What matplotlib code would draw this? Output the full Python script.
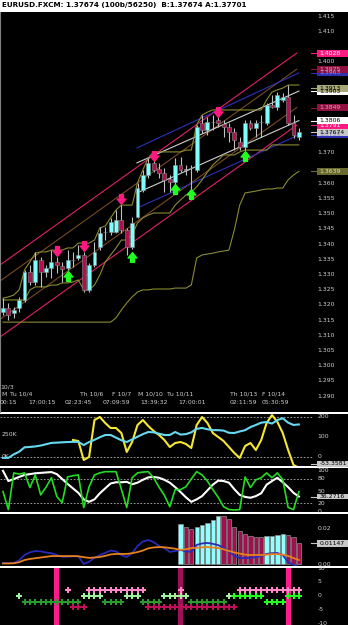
import numpy as np
import matplotlib
matplotlib.use('Agg')
import matplotlib.pyplot as plt
from matplotlib.path import Path
from matplotlib.patches import Rectangle

W, H = 348, 625

# ---- price candles ----
opens = [1.3176, 1.3189, 1.3173, 1.3189, 1.3216, 1.3308, 1.3275, 1.3347, 1.3308, 1.3321,
         1.3341, 1.3328, 1.3321, 1.3347, 1.3354, 1.3364, 1.3249, 1.3331, 1.3390, 1.3440,
         1.3440, 1.3440, 1.3479, 1.3446, 1.3390, 1.3489, 1.3578, 1.3627, 1.3667, 1.3647,
         1.3634, 1.3614, 1.3604, 1.3660, 1.3644, 1.3650, 1.3644, 1.3798, 1.3775, 1.3801,
         1.3808, 1.3795, 1.3785, 1.3769, 1.3736, 1.3719, 1.3798, 1.3782, 1.3801, 1.3798,
         1.3857, 1.3851, 1.3874, 1.3884, 1.3798, 1.3752]
highs = [1.3222, 1.3206, 1.3193, 1.3226, 1.3315, 1.3331, 1.3374, 1.3357, 1.3331, 1.3380,
         1.3357, 1.3341, 1.3380, 1.3374, 1.3397, 1.3374, 1.3338, 1.3407, 1.3456, 1.3456,
         1.3486, 1.3512, 1.3528, 1.3452, 1.3489, 1.3601, 1.3644, 1.3683, 1.3693, 1.3667,
         1.3650, 1.3627, 1.3683, 1.3686, 1.3660, 1.3660, 1.3792, 1.3824, 1.3818, 1.3824,
         1.3834, 1.3808, 1.3798, 1.3782, 1.3752, 1.3808, 1.3808, 1.3808, 1.3824, 1.3864,
         1.3890, 1.3900, 1.3897, 1.3923, 1.3824, 1.3782]
lows = [1.3166, 1.3150, 1.3157, 1.3176, 1.3209, 1.3265, 1.3265, 1.3259, 1.3291, 1.3288,
        1.3305, 1.3275, 1.3315, 1.3324, 1.3347, 1.3242, 1.3242, 1.3324, 1.3380, 1.3413,
        1.3430, 1.3436, 1.3436, 1.3364, 1.3384, 1.3486, 1.3571, 1.3617, 1.3637, 1.3617,
        1.3571, 1.3571, 1.3584, 1.3637, 1.3627, 1.3578, 1.3637, 1.3765, 1.3759, 1.3775,
        1.3785, 1.3752, 1.3736, 1.3709, 1.3709, 1.3709, 1.3775, 1.3752, 1.3752, 1.3792,
        1.3847, 1.3841, 1.3867, 1.3792, 1.3749, 1.3742]
closes = [1.3189, 1.3166, 1.3183, 1.3216, 1.3308, 1.3275, 1.3347, 1.3308, 1.3321, 1.3341,
          1.3331, 1.3318, 1.3347, 1.3346, 1.3364, 1.3249, 1.3331, 1.3374, 1.3436, 1.3438,
          1.3472, 1.3479, 1.3446, 1.3390, 1.3469, 1.3584, 1.3627, 1.3667, 1.3644, 1.3634,
          1.3611, 1.3604, 1.3660, 1.3644, 1.3645, 1.3651, 1.3785, 1.3775, 1.3801, 1.3800,
          1.3798, 1.3785, 1.3769, 1.3742, 1.3719, 1.3798, 1.3782, 1.3798, 1.3800, 1.3857,
          1.3851, 1.3890, 1.3884, 1.3798, 1.3759, 1.37674]

# step bands
band_hi = [1.3222, 1.3226, 1.3232, 1.3249, 1.3315, 1.3341, 1.3370, 1.3374, 1.3374, 1.3380,
           1.3380, 1.3380, 1.3387, 1.3387, 1.3403, 1.3403, 1.3403, 1.3413, 1.3453, 1.3459,
           1.3486, 1.3512, 1.3528, 1.3528, 1.3528, 1.3601, 1.3644, 1.3683, 1.3703, 1.3703,
           1.3703, 1.3703, 1.3703, 1.3703, 1.3709, 1.3709, 1.3792, 1.3824, 1.3834, 1.3841,
           1.3841, 1.3841, 1.3841, 1.3841, 1.3841, 1.3841, 1.3841, 1.3841, 1.3841, 1.3874,
           1.3900, 1.3907, 1.3913, 1.3923, 1.3923, 1.3923]
band_lo = [1.3216, 1.3216, 1.3216, 1.3216, 1.3216, 1.3249, 1.3259, 1.3259, 1.3259, 1.3265,
           1.3265, 1.3272, 1.3272, 1.3275, 1.3282, 1.3249, 1.3249, 1.3265, 1.3298, 1.3341,
           1.3364, 1.3387, 1.3413, 1.3413, 1.3430, 1.3469, 1.3486, 1.3495, 1.3502, 1.3502,
           1.3502, 1.3502, 1.3528, 1.3545, 1.3561, 1.3571, 1.3588, 1.3611, 1.3637, 1.3660,
           1.3676, 1.3693, 1.3693, 1.3693, 1.3703, 1.3709, 1.3709, 1.3709, 1.3709, 1.3709,
           1.3726, 1.3726, 1.3726, 1.3726, 1.3726, 1.3726]
long_stop = [1.3143] * 21 + [1.3157, 1.3183, 1.3206, 1.3226, 1.3242, 1.3249, 1.3249, 1.3252,
             1.3252, 1.3252, 1.3252, 1.3255, 1.3255, 1.3255, 1.3265, 1.3354, 1.3364, 1.3367,
             1.3370, 1.3374, 1.3377, 1.3380, 1.3446, 1.3528, 1.3568, 1.3571, 1.3574, 1.3578,
             1.3581, 1.3581, 1.3584, 1.3584, 1.3611, 1.3627, 1.3639]

# regression channels: (start index, end index), (start price, end price)
long_chan_x = [-0.56, 54.6]
pink_up = [1.3331, 1.4028]
brown_up = [1.3278, 1.3975]
brown_lo = [1.3152, 1.3849]
pink_lo = [1.3094, 1.3791]
short_chan_x = [24.9, 55]
blue_up = [1.3716, 1.3963]
white_up = [1.3667, 1.3903]
white_lo = [1.3568, 1.3806]
blue_lo = [1.3518, 1.3759]

# signal arrows (index, price)
sell_idx = [10, 15, 22, 28, 40]
sell_px = [1.3377, 1.3393, 1.3548, 1.3690, 1.3834]
buy_idx = [12, 24, 32, 35, 45]
buy_px = [1.3295, 1.3357, 1.3581, 1.3565, 1.3690]

# right side value boxes (price, text, fill, text colour), drawn in this order
box_prices = [1.3963, 1.3975, 1.4028, 1.3903, 1.3913, 1.3849, 1.3791, 1.3759, 1.3806, 1.37674, 1.3639]
box_texts = ['1.3963', '1.3975', '1.4028', '1.3903', '1.3913', '1.3849', '1.3791', '1.3759',
             '1.3806', '1.37674', '1.3639']
box_fills = ['#3030b0', '#901040', '#ff1a80', '#ffffff', '#a8a878', '#901040', '#ff1a80',
             '#3030b0', '#ffffff', '#c8c8c8', '#6a6a30']
box_tcols = ['#9090ff', '#e0a0c0', '#ffffff', '#000000', '#000000', '#e0a0c0', '#ffffff',
             '#9090ff', '#000000', '#000000', '#e0e0a0']

# ---- oscillator panels ----
cci_start = 13
cci = [85, 80, -15, 0, 185, 200, 170, 145, 145, 120, 25, 75, 160, 185, 155, 130, 110, 85,
       50, 70, 75, 65, 45, 160, 200, 170, 120, 100, 80, 50, 20, -5, 55, 70, 35, 85, 170,
       210, 175, 120, 35, -40, -53.36]
vol_k = [-10, -10, 30, 60, 110, 114, 120, 130, 145, 160, 163, 167, 170, 172, 172, 136, 170,
         195, 225, 250, 250, 220, 190, 170, 200, 230, 260, 284, 280, 265, 250, 250, 284,
         255, 260, 280, 320, 330, 315, 305, 305, 300, 275, 273, 290, 305, 340, 364, 390,
         398, 380, 420, 440, 390, 364, 370]
stoch_k = [49, 5, 95, 92, 95, 59, 90, 41, 60, 83, 37, 22, 85, 88, 90, 10, 61, 90, 95, 98,
           98, 98, 55, 10, 83, 95, 97, 98, 83, 60, 40, 12, 54, 54, 61, 80, 98, 90, 75, 54,
           35, 12, 5, 4, 5, 85, 59, 78, 83, 95, 83, 95, 78, 10, 5, 49]
stoch_d = [100, 75, 80, 85, 90, 92, 94, 95, 96, 97, 92, 80, 68, 57, 46, 30, 24, 30, 45, 57,
           69, 72, 72, 73, 67, 71, 78, 84, 85, 83, 78, 71, 60, 48, 35, 24, 30, 38, 52, 66,
           76, 75, 71, 55, 41, 36, 34, 38, 45, 66, 75, 83, 72, 60, 46, 37]
macd_blue = [0.0005, 0.0005, 0.0006, 0.0020, 0.0050, 0.0065, 0.0072, 0.0070, 0.0064, 0.0060,
             0.0050, 0.0040, 0.0040, 0.0043, 0.0044, 0.0000, 0.0012, 0.0035, 0.0050, 0.0062,
             0.0075, 0.0070, 0.0050, 0.0039, 0.0060, 0.0100, 0.0125, 0.0133, 0.0122, 0.0100,
             0.0088, 0.0067, 0.0072, 0.0078, 0.0070, 0.0067, 0.0106, 0.0114, 0.0117, 0.0112,
             0.0105, 0.0090, 0.0070, 0.0045, 0.0033, 0.0033, 0.0034, 0.0039, 0.0045, 0.0056,
             0.0060, 0.0061, 0.0050, 0.0010, -0.0005, -0.0017]
macd_orange = [0.0003, 0.0003, 0.0004, 0.0010, 0.0022, 0.0028, 0.0032, 0.0036, 0.0040, 0.0044,
               0.0044, 0.0044, 0.0044, 0.0044, 0.0043, 0.0038, 0.0034, 0.0036, 0.0039, 0.0045,
               0.0053, 0.0056, 0.0056, 0.0056, 0.0060, 0.0066, 0.0075, 0.0087, 0.0092, 0.0094,
               0.0093, 0.0089, 0.0085, 0.0078, 0.0082, 0.0088, 0.0090, 0.0093, 0.0094, 0.0092,
               0.0089, 0.0082, 0.0072, 0.0064, 0.0058, 0.0052, 0.0050, 0.0050, 0.0050, 0.0052,
               0.0055, 0.0055, 0.0052, 0.0045, 0.0033, 0.0022]
hist_start = 33
hist_vals = [0.0222, 0.0206, 0.0194, 0.0206, 0.0217, 0.0230, 0.0244, 0.0267, 0.0267, 0.0250,
             0.0206, 0.0181, 0.0169, 0.0157, 0.0150, 0.0150, 0.0156, 0.0156, 0.0161, 0.0167,
             0.0161, 0.0150, 0.0117]
hist_up = [1, 0, 0, 1, 1, 1, 1, 1, 0, 0, 0, 0, 0, 0, 0, 0, 1, 1, 1, 1, 0, 0, 0]

# signal dots panel: candle indices per row
dots_pink = [12] + list(range(16, 27)) + [33] + list(range(44, 56))
dots_lightgreen = [3] + list(range(15, 19)) + list(range(23, 26)) + list(range(30, 35)) + [42]
dots_green0 = list(range(43, 49)) + list(range(53, 56))
dots_darkgreen = list(range(4, 15)) + list(range(19, 23)) + list(range(26, 30)) + list(range(35, 42))
dots_green2 = list(range(49, 53))
dots_maroon = list(range(13, 16)) + list(range(27, 44))
alert_idx = [10, 33, 53]
alert_colors = ['#ff1a8c', '#a0105a', '#ff1a8c']

# axis text
price_ticks = [1.415 - 0.005 * k for k in range(26)]
day_labels = ['M', 'Tu 10/4', 'Th 10/6', 'F 10/7', 'M 10/10', 'Tu 10/11', 'Th 10/13', 'F 10/14']
day_pos = [-0.37, 1.30, 14.31, 20.26, 25.09, 30.48, 42.19, 48.14]
time_labels = ['00:15', '17:00:15', '02:23:45', '07:09:59', '13:39:32', '17:00:01', '02:11:59', '05:30:59']
time_pos = [-0.56, 4.65, 11.52, 18.59, 25.46, 32.53, 42.19, 48.14]

LBL = '#d0d0d0'
FS = 4.4


def panel(fig, top, bottom, ylim):
    ax = fig.add_axes([0, 1 - bottom / H, 1, (bottom - top) / H])
    ax.set_facecolor('black')
    ax.set_xlim(-0.56, 64.13)
    ax.set_ylim(*ylim)
    ax.set_xticks([])
    ax.set_yticks([])
    for s in ax.spines.values():
        s.set_visible(False)
    return ax


def right_labels(ax, values, texts):
    tr = ax.get_yaxis_transform()
    for v, t in zip(values, texts):
        ax.text(0.912, v, t, transform=tr, color=LBL, fontsize=FS, va='center', ha='left', zorder=5)


def value_box(ax, y, h, text, fc, tc):
    tr = ax.get_yaxis_transform()
    ax.add_patch(Rectangle((0.912, y - h / 2), 0.088, h, transform=tr, fc=fc, ec='none',
                           zorder=6, clip_on=False))
    ax.plot([0.893, 0.912], [y, y], transform=tr, color=fc, lw=0.8, zorder=6)
    ax.text(0.918, y, text, transform=tr, color=tc, fontsize=FS, va='center', ha='left', zorder=7)


def arrow_marker(up):
    s = 1 if up else -1
    verts = [(-0.2, -0.5 * s), (0.2, -0.5 * s), (0.2, -0.05 * s), (0.45, -0.05 * s),
             (0, 0.5 * s), (-0.45, -0.05 * s), (-0.2, -0.05 * s), (-0.2, -0.5 * s)]
    codes = [Path.MOVETO] + [Path.LINETO] * 6 + [Path.CLOSEPOLY]
    return Path(verts, codes)


def plot_chart():
    plt.rcParams['font.family'] = 'DejaVu Sans'
    fig = plt.figure(figsize=(W / 100, H / 100), dpi=100, facecolor='white')
    fig.text(0.006, 1 - 5.5 / H, 'EURUSD.FXCM: 1.37674 (100b/56250)  B:1.37674 A:1.37701',
             fontsize=5.2, fontweight='bold', va='center', ha='left', color='black')

    # ---- main price panel ----
    ax = panel(fig, 12, 412, (1.28474, 1.41632))
    ax.spines['left'].set_visible(True)
    ax.spines['left'].set_color('#808080')
    idx = np.arange(len(opens))
    o, hi, lo, c = map(np.array, (opens, highs, lows, closes))

    for yv, col in [(pink_up, '#e0206a'), (brown_up, '#7a4a20'), (brown_lo, '#7a4a20'), (pink_lo, '#e0206a')]:
        ax.plot(long_chan_x, yv, color=col, lw=0.8, zorder=2)
    for yv, col in [(blue_up, '#3030b8'), (white_up, '#d0d0d0'), (white_lo, '#d0d0d0'), (blue_lo, '#3030b8')]:
        ax.plot(short_chan_x, yv, color=col, lw=0.8, zorder=2)
    ax.plot(idx, band_hi, color='#8a8a30', lw=0.8, zorder=2)
    ax.plot(idx, band_lo, color='#8a8a30', lw=0.8, zorder=2)
    ax.plot(idx, long_stop, color='#8a8a30', lw=0.8, zorder=2)

    ax.vlines(idx, lo, hi, color='#c0c0c0', lw=0.8, zorder=3)
    diff = c - o
    cols = np.where(diff > 0.0001, '#80ffff', np.where(diff < -0.0001, '#b0104e', '#ffffff'))
    bottoms = np.minimum(o, c)
    heights = np.maximum(np.abs(diff), 0.00015)
    ax.bar(idx, heights, bottom=bottoms, width=0.72, color=cols, edgecolor='#8a8a8a', lw=0.4, zorder=4)

    ax.plot(sell_idx, sell_px, ls='none', marker=arrow_marker(False), ms=7, color='#ff1a80', zorder=5)
    ax.plot(buy_idx, buy_px, ls='none', marker=arrow_marker(True), ms=7, color='#22ff22', zorder=5)

    # price labels hidden behind the value boxes are left out
    shown = [p for p in price_ticks if min(abs(p - b) for b in box_prices) > 0.0024]
    right_labels(ax, shown, ['%.3f' % p for p in shown])
    for p, t, fc, tc in zip(box_prices, box_texts, box_fills, box_tcols):
        value_box(ax, p, 0.0023, t, fc, tc)

    xt = ax.get_xaxis_transform()
    ax.text(-0.56, 0.0625, '10/3', transform=xt, color=LBL, fontsize=FS, va='center', ha='left')
    for t, p in zip(day_labels, day_pos):
        ax.text(p, 0.045, t, transform=xt, color=LBL, fontsize=FS, va='center', ha='left')
    for t, p in zip(time_labels, time_pos):
        ax.text(p, 0.025, t, transform=xt, color=LBL, fontsize=FS, va='center', ha='left')

    # ---- CCI / volume panel ----
    ax2 = panel(fig, 414, 466, (-45, 215))
    for v in (200, 0):
        ax2.axhline(v, xmax=0.9, color='#b0b0b0', ls=(0, (2, 2)), lw=0.6)
    ax2v = ax2.twinx()
    ax2v.set_ylim(-45 / 0.44, 215 / 0.44)
    ax2v.set_yticks([])
    for s in ax2v.spines.values():
        s.set_visible(False)
    ax2v.plot(idx, vol_k, color='#66d8f0', lw=1.5, zorder=3)
    ax2.plot(np.arange(cci_start, cci_start + len(cci)), cci, color='#f5e632', lw=1.5, zorder=3)
    ax2.set_zorder(ax2v.get_zorder() - 1)
    ax2v.patch.set_visible(False)
    right_labels(ax2, [200, 100, 0], ['200', '100', '0'])
    ax2.text(0.005, 110, '250K', transform=ax2.get_yaxis_transform(), color=LBL, fontsize=FS, va='center')
    ax2.text(0.005, 0, '0K', transform=ax2.get_yaxis_transform(), color=LBL, fontsize=FS, va='center')
    value_box(ax2v, -34 / 0.44, 30 / 0.44, '-53.3581', '#c8c8c8', '#000000')

    # ---- stochastic panel ----
    ax3 = panel(fig, 468, 512, (-1, 107))
    for v in (80, 20):
        ax3.axhline(v, xmax=0.9, color='#b0b0b0', ls=(0, (2, 2)), lw=0.6)
    ax3.plot(idx, stoch_d, color='white', lw=1.5, zorder=3)
    ax3.plot(idx, stoch_k, color='#22dd22', lw=1.2, zorder=4)
    right_labels(ax3, [100, 80, 50, 20, 0], ['100', '80', '50', '20', '0'])
    value_box(ax3, 37, 14, '36.2716', '#c8c8c8', '#000000')

    # ---- MACD panel ----
    ax4 = panel(fig, 514, 566, (-0.00111, 0.02778))
    hidx = np.arange(hist_start, hist_start + len(hist_vals))
    hcols = ['#90ffff' if u else '#a0104e' for u in hist_up]
    ax4.bar(hidx, hist_vals, width=0.8, color=hcols, edgecolor='#909090', lw=0.5, zorder=2)
    ax4.plot(idx, macd_blue, color='#2a2ab8', lw=1.3, zorder=3)
    ax4.plot(idx, macd_orange, color='#e8801c', lw=1.3, zorder=4)
    right_labels(ax4, [0.02, 0.0], ['0.02', '0.00'])
    value_box(ax4, 0.01147, 0.0038, '0.01147', '#c8c8c8', '#000000')

    # ---- signal dots panel ----
    ax5 = panel(fig, 568, 625, (-10.36, 10))
    for i, col in zip(alert_idx, alert_colors):
        ax5.bar(i, 21, bottom=-10.5, width=0.95, color=col, zorder=1)
    ms = 3.8
    ax5.plot(dots_pink, [2] * len(dots_pink), ls='none', marker='P', ms=ms, color='#ff88c8', mew=0, zorder=3)
    ax5.plot(dots_lightgreen, [0] * len(dots_lightgreen), ls='none', marker='P', ms=ms, color='#a0f0a0', mew=0, zorder=3)
    ax5.plot(dots_green0, [0] * len(dots_green0), ls='none', marker='P', ms=ms, color='#22ff22', mew=0, zorder=3)
    ax5.plot(dots_darkgreen, [-2] * len(dots_darkgreen), ls='none', marker='P', ms=ms, color='#2a9a2a', mew=0, zorder=3)
    ax5.plot(dots_green2, [-2] * len(dots_green2), ls='none', marker='P', ms=ms, color='#22ff22', mew=0, zorder=3)
    ax5.plot(dots_maroon, [-4] * len(dots_maroon), ls='none', marker='P', ms=ms, color='#c0105a', mew=0, zorder=3)
    right_labels(ax5, [10, 5, 0, -5, -10], ['10', '5', '0', '-5', '-10'])

    fig.savefig('out.png', dpi=100, facecolor='white')


if __name__ == '__main__':
    plot_chart()
